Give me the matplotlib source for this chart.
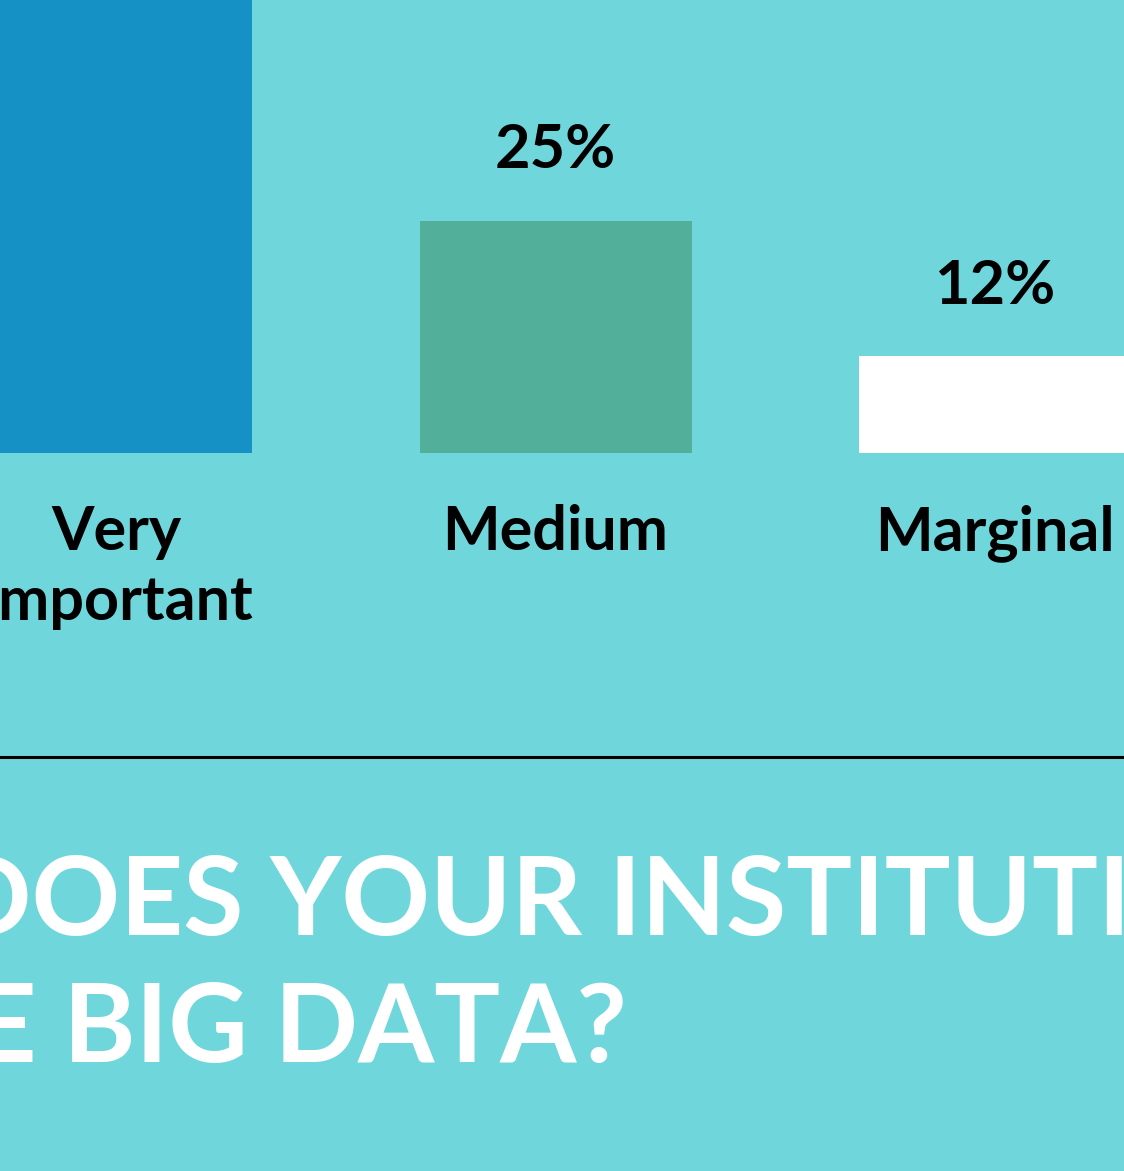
import matplotlib as mpl
import matplotlib.pyplot as plt
import numpy as np

# Survey answers (cropped infographic): how important is big data
categories = ["Very\nImportant", "Medium", "Marginal"]
shares = [63, 25, 12]                # printed percentages
bar_heights = [63, 25, 10.4]         # bar lengths as drawn in the picture
bar_colors = ["#1591C5", "#52AF99", "#FFFFFF"]
title_lines = ["DOES YOUR INSTITUTION", "THE BIG DATA?"]

BG = "#6FD7DC"
FONT = ["Lato", "DejaVu Sans"]

mpl.rcParams.update({"font.family": FONT, "font.weight": "bold"})

W, H, DPI = 1124, 1171, 100
fig = plt.figure(figsize=(W / DPI, H / DPI), dpi=DPI, facecolor=BG)

# axes covers the top part of the canvas down to the bar baseline
base_px = 453
ax = fig.add_axes([0, 1 - base_px / H, 1, base_px / H])
ax.set_facecolor(BG)

x = np.arange(len(categories))
step_px = 439.5
first_px = 116
ax.set_xlim(-first_px / step_px, (W - first_px) / step_px)
ax.set_ylim(0, 25 * base_px / 232)

bars = ax.bar(x, bar_heights, width=272 / step_px, color=bar_colors, linewidth=0)

for rect, share in zip(bars, shares):
    ax.annotate(
        f"{share}%",
        (rect.get_x() + rect.get_width() / 2, rect.get_height()),
        xytext=(0, 38),
        textcoords="offset points",
        ha="center",
        va="baseline",
        fontsize=44,
        fontweight="bold",
        color="black",
        annotation_clip=False,
    )

ax.set_xticks(x)
ax.set_xticklabels(categories, fontsize=44, fontweight="bold", va="top",
                   linespacing=1.3, color="black")
ax.tick_params(axis="x", length=0, pad=37)
ax.set_yticks([])
for spine in ax.spines.values():
    spine.set_visible(False)

# divider line
fig.add_artist(mpl.lines.Line2D([0, 1], [1 - 756.5 / H] * 2, color="black",
                                linewidth=2.2, transform=fig.transFigure))

fig.text(-52 / W, 1 - 935 / H, title_lines[0], ha="left", va="baseline",
         fontsize=79, fontweight="bold", color="white")
fig.text(627 / W, 1 - 1062 / H, title_lines[1], ha="right", va="baseline",
         fontsize=79, fontweight="bold", color="white")

fig.savefig("out.png", dpi=DPI, facecolor=BG)
